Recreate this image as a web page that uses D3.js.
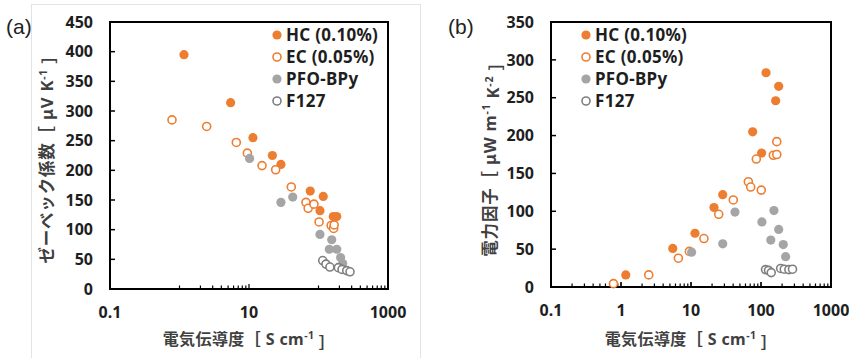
<!DOCTYPE html>
<html>
<head>
<meta charset="utf-8">
<script src="https://cdn.jsdelivr.net/npm/d3@7"></script>
<style>
  body { margin: 0; background: #fff; }
  svg { display: block; font-family: "Noto Sans", "Noto Sans CJK JP", sans-serif; }
</style>
</head>
<body>
<svg id="chart" width="849" height="358"></svg>
<script>
// --- data ---
const SERIES_NAMES = ["HC (0.10%)", "EC (0.05%)", "PFO-BPy", "F127"];

// (a) Seebeck coefficient vs conductivity
const hcCondA = [1.16, 5.44, 11.4, 21.7, 28.8, 76, 117, 105, 163, 183];
const hcSeebeck = [395, 314, 255, 225, 210, 165, 156, 132, 122, 122];
const ecCondA = [0.78, 2.46, 6.57, 9.46, 15.4, 24.2, 40.6, 66, 71, 86, 102, 152, 165, 168];
const ecSeebeck = [285, 274, 247, 229, 208, 201, 172, 146, 136, 143, 113, 107, 102, 108];
const pfoCondA = [10.2, 28.8, 42.6, 105, 155, 143, 183, 208, 223];
const pfoSeebeck = [220, 146, 155, 92, 83, 67, 67, 53, 43];
const f127CondA = [115, 128, 146, 193, 218, 255, 284];
const f127Seebeck = [48, 42, 37, 36, 33, 31, 29];

// (b) power factor vs conductivity
const hcCondB = [1.17, 5.49, 11.4, 21.3, 28.4, 76, 102, 118, 179, 162];
const hcPower = [16, 51, 71, 105, 122, 205, 177, 283, 265, 246];
const ecCondB = [0.78, 2.49, 6.6, 9.47, 15.3, 24.9, 40.2, 65.9, 71.3, 85.7, 101, 150, 168, 168];
const ecPower = [4.4, 16, 38, 47, 64, 96, 115, 139, 132, 169, 128, 174, 175, 192];
const pfoCondB = [10.2, 28.4, 42.5, 103, 138, 153, 179, 208, 225];
const pfoPower = [46, 57, 99, 86, 62, 101, 76, 56, 40];
const f127CondB = [116, 128, 140, 191, 215, 250, 282];
const f127Power = [23, 22, 19, 24.5, 23.5, 23, 23.5];

const TICKS_A_X = [0.1, 10, 1000];
const TICKS_B_X = [0.1, 1, 10, 100, 1000];
const TICKS_A_Y = d3.range(0, 451, 50);
const TICKS_B_Y = d3.range(0, 351, 50);

const ORANGE = "#ED7D31";
const GRAY = "#A5A5A5";
const DARK_GRAY = "#7F7F7F";
const TEXT = "#1e1e1e";

const STYLES = [
  { fill: ORANGE, stroke: "none" },
  { fill: "#fff", stroke: ORANGE },
  { fill: GRAY, stroke: "none" },
  { fill: "#fff", stroke: DARK_GRAY }
];

const zipPts = (xs, ys) => xs.map((x, i) => ({ x, y: ys[i] }));

const svg = d3.select("#chart");
svg.append("rect").attr("width", 849).attr("height", 358).attr("fill", "#fff");

// light chart-area frame around panel (a)
svg.append("rect")
   .attr("x", 31.5).attr("y", 4.5)
   .attr("width", 389).attr("height", 360)
   .attr("fill", "none").attr("stroke", "#e3e3e3");

const drawPanel = (cfg) => {
  const x = d3.scaleLog().domain([0.1, 1000]).range([cfg.left, cfg.right]);
  const y = d3.scaleLinear().domain([0, cfg.yMax]).range([cfg.bottom, cfg.top]);
  const g = svg.append("g");

  // minor x ticks (inside)
  g.append("g").selectAll("line")
   .data(cfg.minorX)
   .join("line")
   .attr("x1", d => x(d)).attr("x2", d => x(d))
   .attr("y1", cfg.bottom).attr("y2", d => cfg.bottom - (cfg.majorX.includes(d) ? 5 : 3.5))
   .attr("stroke", "#000").attr("stroke-width", 1.2);

  // y ticks (inside)
  g.append("g").selectAll("line")
   .data(cfg.yTicks)
   .join("line")
   .attr("x1", cfg.left).attr("x2", cfg.left + 5)
   .attr("y1", d => y(d)).attr("y2", d => y(d))
   .attr("stroke", "#000").attr("stroke-width", 1.5);

  // frame
  g.append("rect")
   .attr("x", cfg.left).attr("y", cfg.top)
   .attr("width", cfg.right - cfg.left).attr("height", cfg.bottom - cfg.top)
   .attr("fill", "none").attr("stroke", "#000").attr("stroke-width", 2);

  // tick labels
  g.append("g").selectAll("text")
   .data(cfg.yTicks)
   .join("text")
   .attr("x", cfg.left - 17).attr("y", d => y(d))
   .attr("dy", "0.36em")
   .attr("text-anchor", "end")
   .attr("font-size", 16).attr("font-weight", "bold").attr("fill", TEXT)
   .text(d => d);

  g.append("g").selectAll("text")
   .data(cfg.xTicks)
   .join("text")
   .attr("x", d => x(d)).attr("y", cfg.bottom + 23)
   .attr("dy", "0.36em")
   .attr("text-anchor", "middle")
   .attr("font-size", 16).attr("font-weight", "bold").attr("fill", TEXT)
   .text(d => d);

  // points
  cfg.series.forEach((pts, i) => {
    const st = STYLES[i];
    g.append("g").selectAll("circle")
     .data(pts)
     .join("circle")
     .attr("cx", d => x(d.x)).attr("cy", d => y(d.y))
     .attr("r", st.stroke === "none" ? 4.6 : 4)
     .attr("fill", st.fill)
     .attr("stroke", st.stroke)
     .attr("stroke-width", 1.6);
  });

  // legend
  const leg = g.append("g").selectAll("g")
               .data(SERIES_NAMES)
               .join("g")
               .attr("transform", (d, i) => `translate(${cfg.legX},${cfg.legY + i * 22})`);
  leg.append("circle")
     .attr("r", (d, i) => STYLES[i].stroke === "none" ? 4.6 : 4)
     .attr("fill", (d, i) => STYLES[i].fill)
     .attr("stroke", (d, i) => STYLES[i].stroke)
     .attr("stroke-width", 1.6);
  leg.append("text")
     .attr("x", 9).attr("dy", "0.36em")
     .attr("font-size", 17).attr("font-weight", "bold").attr("fill", TEXT)
     .attr("letter-spacing", 0.3)
     .text(d => d);

  // x title
  const xt = g.append("text")
              .attr("x", (cfg.left + cfg.right) / 2).attr("y", 339)
              .attr("dy", "0.36em").attr("text-anchor", "middle")
              .attr("font-size", 16).attr("font-weight", "bold").attr("fill", "#404040")
              .attr("letter-spacing", 0.4);
  xt.append("tspan").text("電気伝導度［ S cm");
  xt.append("tspan").attr("font-size", 10.5).attr("dy", "-0.55em").text("-1");
  xt.append("tspan").attr("dy", "0.55em").text(" ］");

  // y title
  const yt = g.append("text")
              .attr("transform", `translate(${cfg.yTitleX},${cfg.yTitleY}) rotate(-90)`)
              .attr("dy", "0.36em").attr("text-anchor", "middle")
              .attr("font-size", 16.5).attr("font-weight", "bold").attr("fill", "#404040")
              .attr("letter-spacing", 0.8);
  cfg.yTitle.forEach(part => {
    const ts = yt.append("tspan").text(part.t);
    if (part.sup) ts.attr("font-size", 10.5).attr("dy", "-0.55em");
    if (part.down) ts.attr("dy", "0.55em");
  });

  // panel letter
  svg.append("text")
     .attr("x", cfg.letterX).attr("y", 26)
     .attr("dy", "0.36em")
     .attr("font-size", 21).attr("fill", "#222")
     .style("font-family", "'Liberation Sans', Arial, sans-serif")
     .text(cfg.letter);
};

const decadeTicks = (decades) => decades.flatMap(p => d3.range(1, 11).map(k => +(k * Math.pow(10, p)).toPrecision(3)));

drawPanel({
  left: 110, right: 388, top: 22, bottom: 289, yMax: 450,
  xTicks: TICKS_A_X, yTicks: TICKS_A_Y,
  minorX: decadeTicks([0, 2]), majorX: [10, 1000],
  series: [zipPts(hcCondA, hcSeebeck), zipPts(ecCondA, ecSeebeck), zipPts(pfoCondA, pfoSeebeck), zipPts(f127CondA, f127Seebeck)],
  legX: 277, legY: 35,
  yTitleX: 47, yTitleY: 155,
  yTitle: [{ t: "ゼーベック係数［ μV K" }, { t: "-1", sup: true }, { t: " ］", down: true }],
  letter: "(a)", letterX: 6
});

drawPanel({
  left: 551, right: 831, top: 22, bottom: 287, yMax: 350,
  xTicks: TICKS_B_X, yTicks: TICKS_B_Y,
  minorX: decadeTicks([-1, 0, 1, 2]), majorX: [1, 10, 100, 1000],
  series: [zipPts(hcCondB, hcPower), zipPts(ecCondB, ecPower), zipPts(pfoCondB, pfoPower), zipPts(f127CondB, f127Power)],
  legX: 586, legY: 35,
  yTitleX: 490, yTitleY: 155,
  yTitle: [{ t: "電力因子［ μW m" }, { t: "-1", sup: true }, { t: " K", down: true }, { t: "-2", sup: true }, { t: " ］", down: true }],
  letter: "(b)", letterX: 448
});
</script>
</body>
</html>
